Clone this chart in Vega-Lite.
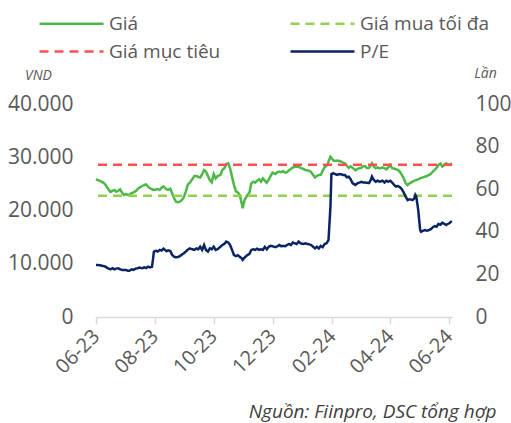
{
 "$schema": "https://vega.github.io/schema/vega-lite/v6.json",
 "width": 356, "height": 213,
 "autosize": {"type": "none"},
 "padding": {"left": 96, "top": 104, "right": 59, "bottom": 106},
 "background": "white",
 "config": {"font": "Open Sans", "view": {"stroke": null}, "axis": {"grid": false, "labelColor": "#595959", "titleColor": "#595959"}, "legend": {"title": null}},
 "datasets": {
  "series": [
  {"d":"2023-06-01","g":25900,"p":24.4},{"d":"2023-06-03","g":25700,"p":24.4},{"d":"2023-06-05","g":25550,"p":24.3},{"d":"2023-06-07","g":25400,"p":24.1},{"d":"2023-06-09","g":25170,"p":23.9},{"d":"2023-06-11","g":24800,"p":23.6},{"d":"2023-06-13","g":24200,"p":22.9},{"d":"2023-06-16","g":23500,"p":22.4},{"d":"2023-06-18","g":23700,"p":22.9},{"d":"2023-06-20","g":23850,"p":22.4},{"d":"2023-06-22","g":23530,"p":22.7},{"d":"2023-06-24","g":23700,"p":22.9},{"d":"2023-06-26","g":23980,"p":22.4},{"d":"2023-06-28","g":23350,"p":22.1},{"d":"2023-06-30","g":22910,"p":22.1},
  {"d":"2023-07-02","g":23100,"p":22.1},{"d":"2023-07-04","g":22900,"p":21.7},{"d":"2023-07-06","g":23000,"p":21.8},{"d":"2023-07-08","g":23280,"p":22.4},{"d":"2023-07-10","g":23400,"p":22.1},{"d":"2023-07-12","g":23600,"p":22.7},{"d":"2023-07-14","g":24000,"p":22.9},{"d":"2023-07-16","g":24300,"p":23.2},{"d":"2023-07-19","g":24600,"p":22.9},{"d":"2023-07-21","g":24800,"p":23.3},{"d":"2023-07-23","g":24900,"p":23.0},{"d":"2023-07-25","g":24470,"p":23.6},{"d":"2023-07-27","g":24170,"p":23.3},{"d":"2023-07-29","g":24000,"p":23.6},{"d":"2023-07-30","g":23900,"p":26.8},{"d":"2023-07-31","g":23850,"p":30.7},
  {"d":"2023-08-02","g":23950,"p":31.1},{"d":"2023-08-04","g":24040,"p":30.7},{"d":"2023-08-06","g":23850,"p":31.5},{"d":"2023-08-08","g":24300,"p":31.2},{"d":"2023-08-10","g":24500,"p":32.1},{"d":"2023-08-13","g":23980,"p":30.9},{"d":"2023-08-15","g":23900,"p":31.3},{"d":"2023-08-17","g":24100,"p":31.0},{"d":"2023-08-19","g":23200,"p":29.1},{"d":"2023-08-21","g":22300,"p":28.3},{"d":"2023-08-23","g":21650,"p":28.0},{"d":"2023-08-25","g":21550,"p":28.2},{"d":"2023-08-27","g":21660,"p":28.6},{"d":"2023-08-29","g":21970,"p":29.3},{"d":"2023-08-31","g":22500,"p":29.9},
  {"d":"2023-09-02","g":23500,"p":30.7},{"d":"2023-09-04","g":24790,"p":31.5},{"d":"2023-09-06","g":25200,"p":32.2},{"d":"2023-09-09","g":25900,"p":31.8},{"d":"2023-09-11","g":26500,"p":31.5},{"d":"2023-09-13","g":26500,"p":32.2},{"d":"2023-09-15","g":26300,"p":31.8},{"d":"2023-09-17","g":26200,"p":33.0},{"d":"2023-09-19","g":26800,"p":31.5},{"d":"2023-09-21","g":27600,"p":33.8},{"d":"2023-09-23","g":27300,"p":31.5},{"d":"2023-09-25","g":26500,"p":30.7},{"d":"2023-09-27","g":25700,"p":32.2},{"d":"2023-09-29","g":25300,"p":31.8},
  {"d":"2023-10-01","g":26850,"p":33.0},{"d":"2023-10-03","g":26040,"p":31.5},{"d":"2023-10-05","g":26480,"p":31.8},{"d":"2023-10-08","g":26670,"p":33.0},{"d":"2023-10-10","g":27610,"p":33.8},{"d":"2023-10-12","g":27920,"p":34.3},{"d":"2023-10-14","g":28730,"p":35.4},{"d":"2023-10-16","g":28860,"p":35.0},{"d":"2023-10-18","g":27920,"p":33.8},{"d":"2023-10-20","g":26350,"p":31.5},{"d":"2023-10-22","g":24790,"p":29.1},{"d":"2023-10-24","g":23600,"p":28.6},{"d":"2023-10-26","g":23400,"p":29.0},{"d":"2023-10-28","g":22900,"p":28.3},{"d":"2023-10-30","g":21350,"p":27.6},{"d":"2023-10-31","g":20410,"p":26.8},
  {"d":"2023-11-02","g":21970,"p":27.9},{"d":"2023-11-05","g":22910,"p":29.1},{"d":"2023-11-07","g":23350,"p":29.6},{"d":"2023-11-09","g":25110,"p":31.5},{"d":"2023-11-11","g":25410,"p":31.8},{"d":"2023-11-13","g":25230,"p":31.5},{"d":"2023-11-15","g":25600,"p":32.1},{"d":"2023-11-17","g":25860,"p":31.5},{"d":"2023-11-19","g":25410,"p":31.8},{"d":"2023-11-21","g":26040,"p":31.5},{"d":"2023-11-23","g":25600,"p":32.9},{"d":"2023-11-25","g":25230,"p":31.8},{"d":"2023-11-27","g":25800,"p":33.0},{"d":"2023-11-29","g":26500,"p":33.4},
  {"d":"2023-12-01","g":27100,"p":33.2},{"d":"2023-12-04","g":26850,"p":32.8},{"d":"2023-12-06","g":27200,"p":33.2},{"d":"2023-12-08","g":27300,"p":33.8},{"d":"2023-12-10","g":27200,"p":33.2},{"d":"2023-12-12","g":27400,"p":33.4},{"d":"2023-12-14","g":27100,"p":33.2},{"d":"2023-12-16","g":27200,"p":33.8},{"d":"2023-12-18","g":27550,"p":34.3},{"d":"2023-12-20","g":27800,"p":33.8},{"d":"2023-12-22","g":28100,"p":35.0},{"d":"2023-12-24","g":28200,"p":34.6},{"d":"2023-12-26","g":28200,"p":34.3},{"d":"2023-12-28","g":28200,"p":35.4},{"d":"2023-12-30","g":28000,"p":34.6},
  {"d":"2024-01-02","g":27800,"p":34.3},{"d":"2024-01-04","g":27600,"p":34.6},{"d":"2024-01-06","g":27550,"p":34.3},{"d":"2024-01-08","g":27450,"p":34.1},{"d":"2024-01-10","g":27200,"p":33.8},{"d":"2024-01-12","g":26700,"p":33.0},{"d":"2024-01-14","g":26200,"p":32.2},{"d":"2024-01-16","g":26500,"p":33.0},{"d":"2024-01-18","g":26650,"p":32.2},{"d":"2024-01-20","g":26700,"p":33.4},{"d":"2024-01-22","g":27500,"p":32.8},{"d":"2024-01-24","g":28100,"p":34.3},{"d":"2024-01-26","g":28450,"p":34.6},{"d":"2024-01-27","g":28540,"p":35.4},{"d":"2024-01-28","g":29200,"p":36.1},{"d":"2024-01-30","g":30100,"p":51.8},{"d":"2024-01-31","g":29900,"p":67.1},
  {"d":"2024-02-02","g":29400,"p":67.5},{"d":"2024-02-04","g":29300,"p":67.1},{"d":"2024-02-06","g":29400,"p":66.7},{"d":"2024-02-08","g":29300,"p":67.1},{"d":"2024-02-10","g":29200,"p":67.0},{"d":"2024-02-12","g":29000,"p":66.7},{"d":"2024-02-14","g":28860,"p":66.7},{"d":"2024-02-16","g":28400,"p":65.6},{"d":"2024-02-18","g":28000,"p":65.9},{"d":"2024-02-20","g":28300,"p":64.6},{"d":"2024-02-22","g":28000,"p":62.8},{"d":"2024-02-25","g":27550,"p":62.0},{"d":"2024-02-27","g":27800,"p":62.8},{"d":"2024-02-29","g":27950,"p":63.1},
  {"d":"2024-03-02","g":28000,"p":63.5},{"d":"2024-03-04","g":28300,"p":63.1},{"d":"2024-03-06","g":28300,"p":63.1},{"d":"2024-03-08","g":27950,"p":63.0},{"d":"2024-03-10","g":28000,"p":62.9},{"d":"2024-03-12","g":28500,"p":64.5},{"d":"2024-03-13","g":28860,"p":65.9},{"d":"2024-03-15","g":28230,"p":64.3},{"d":"2024-03-17","g":27920,"p":63.5},{"d":"2024-03-19","g":28110,"p":64.0},{"d":"2024-03-21","g":27920,"p":63.5},{"d":"2024-03-24","g":28100,"p":64.0},{"d":"2024-03-26","g":27920,"p":63.1},{"d":"2024-03-28","g":27730,"p":64.0},{"d":"2024-03-30","g":28110,"p":63.5},
  {"d":"2024-04-01","g":28540,"p":64.0},{"d":"2024-04-03","g":27920,"p":63.1},{"d":"2024-04-05","g":27900,"p":62.0},{"d":"2024-04-07","g":27730,"p":61.2},{"d":"2024-04-09","g":27610,"p":61.5},{"d":"2024-04-11","g":27290,"p":60.9},{"d":"2024-04-13","g":26670,"p":60.0},{"d":"2024-04-15","g":26040,"p":58.4},{"d":"2024-04-17","g":25110,"p":56.5},{"d":"2024-04-19","g":24790,"p":54.9},{"d":"2024-04-21","g":25110,"p":55.3},{"d":"2024-04-24","g":25410,"p":54.9},{"d":"2024-04-26","g":25600,"p":55.7},{"d":"2024-04-27","g":25650,"p":57.3},{"d":"2024-04-28","g":25730,"p":56.5},{"d":"2024-04-30","g":25860,"p":50.2},
  {"d":"2024-05-02","g":26040,"p":40.8},{"d":"2024-05-03","g":26100,"p":40.0},{"d":"2024-05-05","g":26230,"p":40.5},{"d":"2024-05-07","g":26350,"p":40.8},{"d":"2024-05-09","g":26480,"p":40.5},{"d":"2024-05-11","g":26670,"p":40.8},{"d":"2024-05-13","g":26850,"p":41.2},{"d":"2024-05-15","g":27290,"p":42.1},{"d":"2024-05-17","g":27610,"p":42.7},{"d":"2024-05-19","g":28000,"p":42.4},{"d":"2024-05-21","g":28540,"p":43.7},{"d":"2024-05-23","g":28800,"p":43.3},{"d":"2024-05-25","g":28230,"p":44.3},{"d":"2024-05-27","g":28540,"p":43.7},{"d":"2024-05-29","g":28860,"p":43.2},
  {"d":"2024-06-01","g":28540,"p":44.0},{"d":"2024-06-03","g":28730,"p":44.7},{"d":"2024-06-04","g":28860,"p":44.5}
  ],
  "levels": [{"name": "Giá mục tiêu", "v": 28600}, {"name": "Giá mua tối đa", "v": 22750}]
 },
 "layer": [
  {
   "layer": [
    {"data": {"name": "series"},
     "mark": {"type": "line", "strokeWidth": 2.5},
     "encoding": {
      "x": {"field": "d", "type": "temporal",
       "scale": {"type": "utc", "domain": [{"year": 2023, "month": 6, "date": 1, "utc": true}, {"year": 2024, "month": 6, "date": 4, "utc": true}]},
       "axis": {"values": [{"year": 2023, "month": 6, "date": 1, "utc": true}, {"year": 2023, "month": 8, "date": 1, "utc": true}, {"year": 2023, "month": 10, "date": 1, "utc": true}, {"year": 2023, "month": 12, "date": 1, "utc": true}, {"year": 2024, "month": 2, "date": 1, "utc": true}, {"year": 2024, "month": 4, "date": 1, "utc": true}, {"year": 2024, "month": 6, "date": 1, "utc": true}],
        "format": "%m-%y", "labelAngle": -45, "labelAlign": "right", "labelBaseline": "middle", "labelFontSize": 20, "labelPadding": 9,
        "domainColor": "#D9D9D9", "domainWidth": 1.5, "tickColor": "#D9D9D9", "tickWidth": 1.5, "tickSize": 7,
        "title": "Nguồn: Fiinpro, DSC tổng hợp", "titleFontStyle": "italic", "titleFontWeight": "normal", "titleFontSize": 19, "titleColor": "#404040",
        "titleAlign": "right", "titleBaseline": "middle", "titleX": 400, "titleY": 94}},
      "y": {"field": "g", "type": "quantitative", "scale": {"domain": [0, 40000]},
       "axis": {"values": [0, 10000, 20000, 30000, 40000], "labelExpr": "replace(format(datum.value, ','), ',', '.')", "domain": false, "ticks": false, "labelFontSize": 21, "labelPadding": 23,
        "title": "VND", "titleAngle": 0, "titleX": -58, "titleY": -29, "titleAlign": "center", "titleBaseline": "middle", "titleFontStyle": "italic", "titleFontWeight": "normal", "titleFontSize": 14}},
      "color": {"datum": "Giá", "type": "nominal",
       "scale": {"domain": ["Giá", "Giá mục tiêu", "Giá mua tối đa", "P/E"], "range": ["#4DB848", "#FF5050", "#92D050", "#0A2463"]},
       "legend": {"orient": "none", "legendX": -62, "legendY": -90, "columns": 2, "title": null, "symbolType": "M-1,0H15", "symbolSize": 64, "symbolStrokeWidth": 2.5, "labelFontSize": 19, "labelColor": "#595959", "labelOffset": 56, "columnPadding": 64, "rowPadding": 8}},
      "strokeDash": {"datum": "Giá", "type": "nominal",
       "scale": {"domain": ["Giá", "Giá mục tiêu", "Giá mua tối đa", "P/E"], "range": [[1, 0], [9, 6], [9, 6], [1, 0]]},
       "legend": {"orient": "none", "legendX": -62, "legendY": -90, "columns": 2, "title": null, "symbolType": "M-1,0H15", "symbolSize": 64, "symbolStrokeWidth": 2.5, "labelFontSize": 19, "labelColor": "#595959", "labelOffset": 56, "columnPadding": 64, "rowPadding": 8}}
     }},
    {"data": {"name": "levels"},
     "mark": {"type": "rule", "strokeWidth": 2.5},
     "encoding": {"y": {"field": "v", "type": "quantitative"}, "color": {"field": "name", "type": "nominal", "title": null}, "strokeDash": {"field": "name", "type": "nominal", "title": null}}}
   ]
  },
  {"data": {"name": "series"},
   "mark": {"type": "line", "strokeWidth": 2.5},
   "encoding": {
    "x": {"field": "d", "type": "temporal"},
    "y": {"field": "p", "type": "quantitative", "scale": {"domain": [0, 100]},
     "axis": {"orient": "right", "values": [0, 20, 40, 60, 80, 100], "domain": false, "ticks": false, "labelFontSize": 21, "labelPadding": 23,
      "title": "Lần", "titleAngle": 0, "titleX": 33, "titleY": -31, "titleAlign": "center", "titleBaseline": "middle", "titleFontStyle": "italic", "titleFontWeight": "normal", "titleFontSize": 14}},
    "color": {"datum": "P/E", "type": "nominal"},
    "strokeDash": {"datum": "P/E", "type": "nominal"}
   }}
 ],
 "resolve": {"scale": {"y": "independent"}}
}
